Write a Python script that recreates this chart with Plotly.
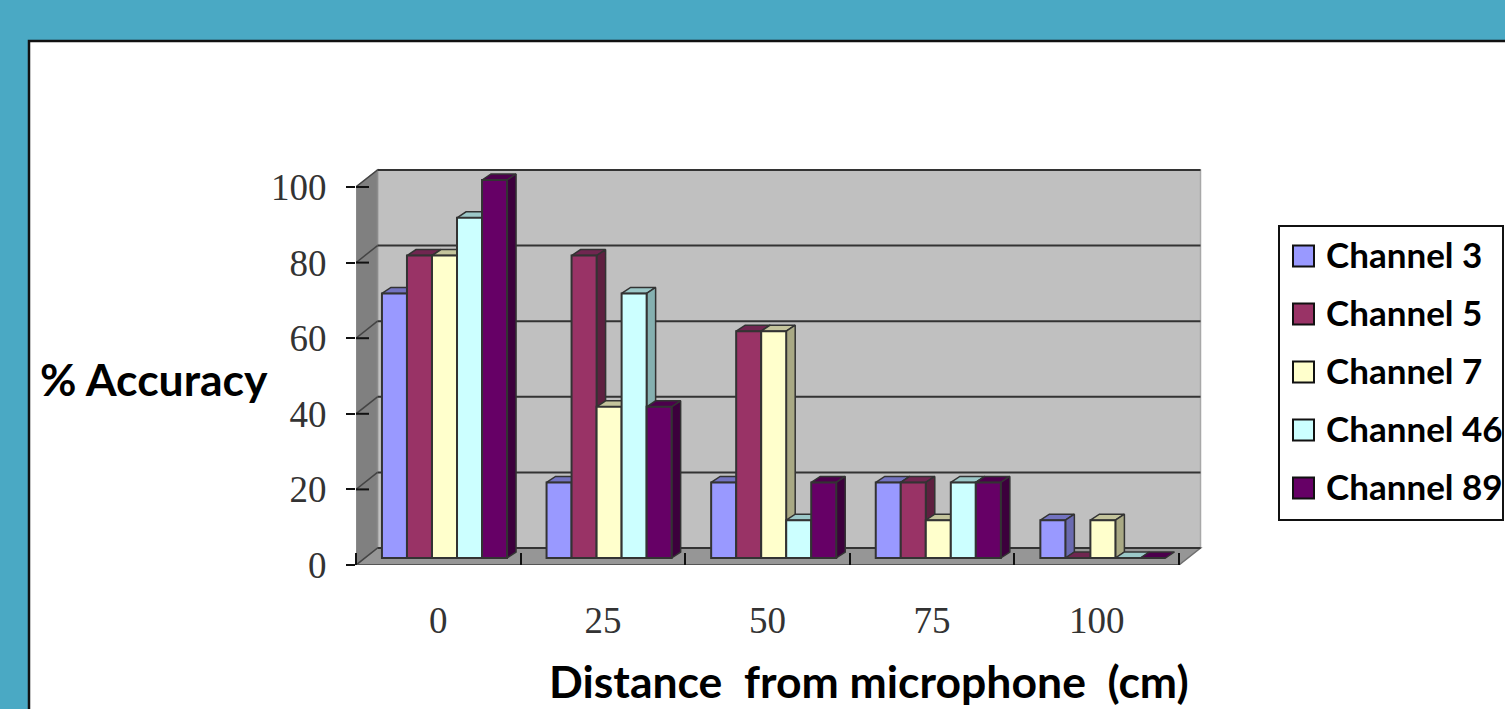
import plotly.graph_objects as go

# ---- data ----
categories = ["0", "25", "50", "75", "100"]
series_names = ["Channel 3", "Channel 5", "Channel 7", "Channel 46", "Channel 89"]
channel_3 = [70, 20, 20, 20, 10]
channel_5 = [80, 80, 60, 20, 0]
channel_7 = [80, 40, 60, 10, 10]
channel_46 = [90, 70, 10, 20, 0]
channel_89 = [100, 40, 20, 20, 0]
y_ticks = [0, 20, 40, 60, 80, 100]
all_series = [channel_3, channel_5, channel_7, channel_46, channel_89]

# ---- styles ----
front = ["#9999FF", "#993366", "#FFFFCC", "#CCFFFF", "#660066"]
side = ["#6A6AB0", "#5E2040", "#A9A984", "#85B0B0", "#3C003C"]
top = ["#7373C0", "#702650", "#C4C49C", "#9CC8C8", "#4C004C"]
OUTLINE = "#333333"
W, H = 1505, 709

# ---- layout geometry (pixels of the page) ----
PL, PR, PB, PT = 356, 1205, 565, 165
CAT_PX = 164.6
VAL_PX = 3.78
x_max = (PR - PL) / CAT_PX
y_max = (PB - PT) / VAL_PX
WALL_DX, WALL_DY = 21.5 / CAT_PX, 17 / VAL_PX   # depth of the chart box
BAR_DX, BAR_DY = 9 / CAT_PX, 6 / VAL_PX         # depth of one bar
BASE = 7 / VAL_PX                               # bars stand a little behind the axis
SHIFT = 6.2 / CAT_PX
BARGAP = 0.24
BAR_W = (1 - BARGAP) / 5


def fx(px):
    return px / W


def fy(px):
    return 1 - px / H


n_cat = len(categories)
centers = [i + 0.5 + SHIFT for i in range(n_cat)]

fig = go.Figure()

# top and side faces of each bar, from the same values, below the front faces
for s, vals in enumerate(all_series):
    for c, v in zip(centers, vals):
        left = c - (1 - BARGAP) / 2 + s * BAR_W
        right = left + BAR_W
        t = BASE + v
        fig.add_trace(go.Scatter(
            x=[left, left + BAR_DX, right + BAR_DX, right, left],
            y=[t, t + BAR_DY, t + BAR_DY, t, t],
            mode="lines", fill="toself", fillcolor=top[s],
            line=dict(color=OUTLINE, width=1.5),
            showlegend=False, hoverinfo="skip", zorder=0))
        if v > 0:
            fig.add_trace(go.Scatter(
                x=[right, right + BAR_DX, right + BAR_DX, right, right],
                y=[BASE, BASE + BAR_DY, t + BAR_DY, t, BASE],
                mode="lines", fill="toself", fillcolor=side[s],
                line=dict(color=OUTLINE, width=1.5),
                showlegend=False, hoverinfo="skip", zorder=0))

# front faces
for s, vals in enumerate(all_series):
    fig.add_trace(go.Bar(
        x=centers, y=vals, base=BASE, name=series_names[s],
        marker=dict(color=front[s], line=dict(color=OUTLINE, width=2)),
        showlegend=False, zorder=1))

shapes = []
# slide background panel
shapes.append(dict(type="rect", xref="paper", yref="paper", layer="below",
                   x0=fx(29), x1=fx(W + 10), y0=fy(H + 10), y1=fy(41),
                   fillcolor="white", line=dict(color="#111111", width=2.5)))


def poly(points, fill, line=None, width=0):
    path = "M" + "L".join(f"{a},{b}" for a, b in points) + "Z"
    return dict(type="path", xref="x", yref="y", layer="below", path=path,
                fillcolor=fill, line=dict(color=line or fill, width=width))


grid_top = max(y_ticks)
right_end = n_cat
# back wall
shapes.append(poly([(WALL_DX, WALL_DY), (right_end + WALL_DX, WALL_DY),
                    (right_end + WALL_DX, grid_top + WALL_DY), (WALL_DX, grid_top + WALL_DY)],
                   "#C0C0C0", "#A8A8A8", 1.5))
# left wall
shapes.append(poly([(0, 0), (WALL_DX, WALL_DY), (WALL_DX, grid_top + WALL_DY), (0, grid_top)],
                   "#808080", "#8C8C8C", 1.5))
# floor
shapes.append(poly([(0, 0), (right_end, 0), (right_end + WALL_DX, WALL_DY), (WALL_DX, WALL_DY)],
                   "#969696", "#707070", 1.5))
# gridlines on the back wall and their slanted part on the left wall
for v in y_ticks:
    shapes.append(dict(type="line", xref="x", yref="y", layer="below",
                       x0=WALL_DX, x1=right_end + WALL_DX, y0=v + WALL_DY, y1=v + WALL_DY,
                       line=dict(color="#333333", width=2)))
    shapes.append(dict(type="line", xref="x", yref="y", layer="below",
                       x0=0, x1=WALL_DX, y0=v, y1=v + WALL_DY,
                       line=dict(color="#444444", width=1.5)))
    # inner stub of the crossing tick
    shapes.append(dict(type="line", xref="x", yref="y", layer="below",
                       x0=0, x1=13 / CAT_PX, y0=v, y1=v,
                       line=dict(color="#111111", width=2)))
# front edge of the floor
shapes.append(dict(type="line", xref="x", yref="y", layer="below",
                   x0=0, x1=right_end, y0=0, y1=0, line=dict(color="#555555", width=2)))

# legend box
LEG_Y = [256, 314, 372, 430, 488]
shapes.append(dict(type="rect", xref="paper", yref="paper",
                   x0=fx(1279), x1=fx(1503), y0=fy(520), y1=fy(226),
                   fillcolor="white", line=dict(color="#111111", width=2)))
annotations = []
for s, name in enumerate(series_names):
    shapes.append(dict(type="rect", xref="paper", yref="paper",
                       x0=fx(1293), x1=fx(1314), y0=fy(LEG_Y[s] + 10.5), y1=fy(LEG_Y[s] - 10.5),
                       fillcolor=front[s], line=dict(color="#111111", width=2)))
    annotations.append(dict(text=name, xref="paper", yref="paper", x=fx(1324), y=fy(LEG_Y[s] - 2),
                            xanchor="left", yanchor="middle", showarrow=False,
                            font=dict(family="Lato", size=35, color="black", weight="bold")))
annotations.append(dict(text="% Accuracy", xref="paper", yref="paper", x=fx(153.5), y=fy(379),
                        xanchor="center", yanchor="middle", showarrow=False,
                        font=dict(family="Lato", size=44.5, color="black", weight="bold")))
annotations.append(dict(text="Distance  from microphone  (cm)", xref="paper", yref="paper",
                        x=fx(869), y=fy(680), xanchor="center", yanchor="middle", showarrow=False,
                        font=dict(family="Lato", size=44.5, color="black", weight="bold")))

fig.update_layout(
    width=W, height=H, autosize=False,
    margin=dict(l=0, r=0, t=0, b=0),
    paper_bgcolor="#4AA9C4", plot_bgcolor="rgba(0,0,0,0)",
    barmode="group", bargap=BARGAP, bargroupgap=0,
    showlegend=False, shapes=shapes, annotations=annotations,
    xaxis=dict(domain=[fx(PL), fx(PR)], range=[0, x_max], showgrid=False, zeroline=False,
               automargin=False, showline=False, tickmode="array",
               tickvals=[i + 0.5 for i in range(n_cat)], ticktext=categories,
               ticks="", ticklabelstandoff=30,
               tickfont=dict(family="Liberation Serif", size=37, color="#333333"),
               minor=dict(ticks="inside", ticklen=12, tickwidth=2, tickcolor="#111111",
                          tickmode="array", tickvals=list(range(n_cat + 1)), showgrid=False)),
    yaxis=dict(domain=[fy(PB), fy(PT)], range=[0, y_max], showgrid=False, zeroline=False,
               automargin=False, showline=False, tickmode="array", tickvals=y_ticks,
               ticktext=[str(v) for v in y_ticks],
               ticks="outside", ticklen=9, tickwidth=2, tickcolor="#111111",
               ticklabelstandoff=12,
               tickfont=dict(family="Liberation Serif", size=37, color="#333333")),
)

fig.write_html("out.html", config={"displayModeBar": False},
               post_script="document.body.style.margin='0';document.documentElement.style.overflow='hidden';")
